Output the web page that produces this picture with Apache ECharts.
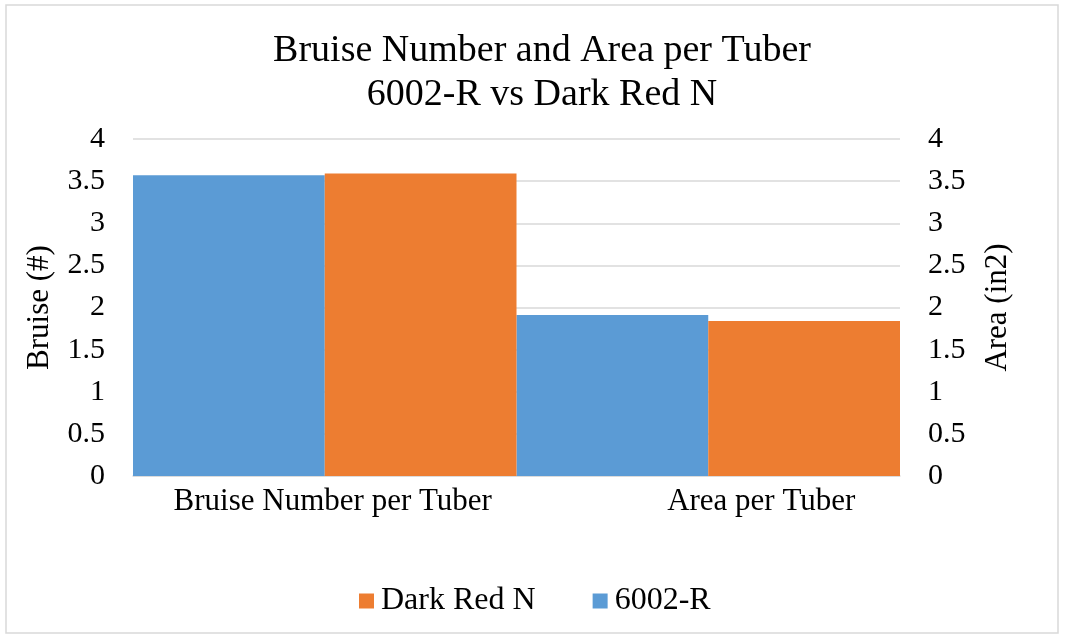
<!DOCTYPE html>
<html>
<head>
<meta charset="utf-8">
<script src="https://cdn.jsdelivr.net/npm/echarts@6/dist/echarts.min.js"></script>
<style>
html,body{margin:0;padding:0;background:#fff;}
#chart{width:1065px;height:639px;}
</style>
</head>
<body>
<div id="chart"></div>
<script>
var categories = ['Bruise Number per Tuber', 'Area per Tuber'];
var series6002R = [3.57, 1.91];
var seriesDarkRedN = [3.59, 1.84];
var yTicks = [0, 0.5, 1, 1.5, 2, 2.5, 3, 3.5, 4];
var titleLines = ['Bruise Number and Area per Tuber', '6002-R vs Dark Red N'];

var FONT = '"Liberation Serif", "Times New Roman", serif';
var chart = echarts.init(document.getElementById('chart'), null, {renderer: 'canvas'});
var yMin = yTicks[0], yMax = yTicks[yTicks.length - 1], yStep = yTicks[1] - yTicks[0];

function yAxisCfg(name, pos, gap) {
  return {
    type: 'value', position: pos, min: yMin, max: yMax, interval: yStep,
    name: name, nameLocation: 'middle', nameGap: gap, nameRotate: 90,
    nameTextStyle: {fontFamily: FONT, fontSize: 31, color: '#000'},
    axisLine: {show: false}, axisTick: {show: false},
    axisLabel: {fontFamily: FONT, fontSize: 30, color: '#000', margin: 28},
    splitLine: {show: pos === 'left', lineStyle: {color: '#d9d9d9', width: 1.5}}
  };
}

chart.setOption({
  animation: false,
  backgroundColor: '#fff',
  title: {
    text: titleLines.join('\n'), left: 537, textAlign: 'center', top: 24,
    textStyle: {fontFamily: FONT, fontSize: 38, fontWeight: 'normal', color: '#000', lineHeight: 44}
  },
  graphic: [{
    type: 'rect', shape: {x: 6, y: 5, width: 1052, height: 628},
    style: {fill: 'none', stroke: '#d9d9d9', lineWidth: 1.5}, silent: true
  }],
  legend: {
    data: ['Dark Red N', '6002-R'], left: 354, top: 580,
    itemWidth: 15, itemHeight: 15, itemGap: 57, icon: 'rect',
    textStyle: {fontFamily: FONT, fontSize: 32, color: '#000', padding: [0, 0, 0, 2]}
  },
  grid: {left: 133, right: 165, top: 139, bottom: 163},
  xAxis: {
    type: 'category', data: categories,
    axisLine: {lineStyle: {color: '#d9d9d9', width: 1.5}}, axisTick: {show: false},
    axisLabel: {
      fontFamily: FONT, fontSize: 31, color: '#000', margin: 10, interval: 0,
      formatter: function (v, i) { return (i === 0 ? '{a|' : '{b|') + v + '}'; },
      rich: {
        a: {fontFamily: FONT, fontSize: 31, color: '#000', padding: [0, 0, 0, 16]},
        b: {fontFamily: FONT, fontSize: 31, color: '#000', padding: [0, 0, 0, 106]}
      }
    }
  },
  yAxis: [yAxisCfg('Bruise (#)', 'left', 78), yAxisCfg('Area (in2)', 'right', 82)],
  series: [
    {name: '6002-R', type: 'bar', data: series6002R, yAxisIndex: 0,
     barGap: '0%', barCategoryGap: '0%', itemStyle: {color: '#5b9bd5'}},
    {name: 'Dark Red N', type: 'bar', data: seriesDarkRedN, yAxisIndex: 0,
     barGap: '0%', barCategoryGap: '0%', itemStyle: {color: '#ed7d31'}}
  ]
});
</script>
</body>
</html>
